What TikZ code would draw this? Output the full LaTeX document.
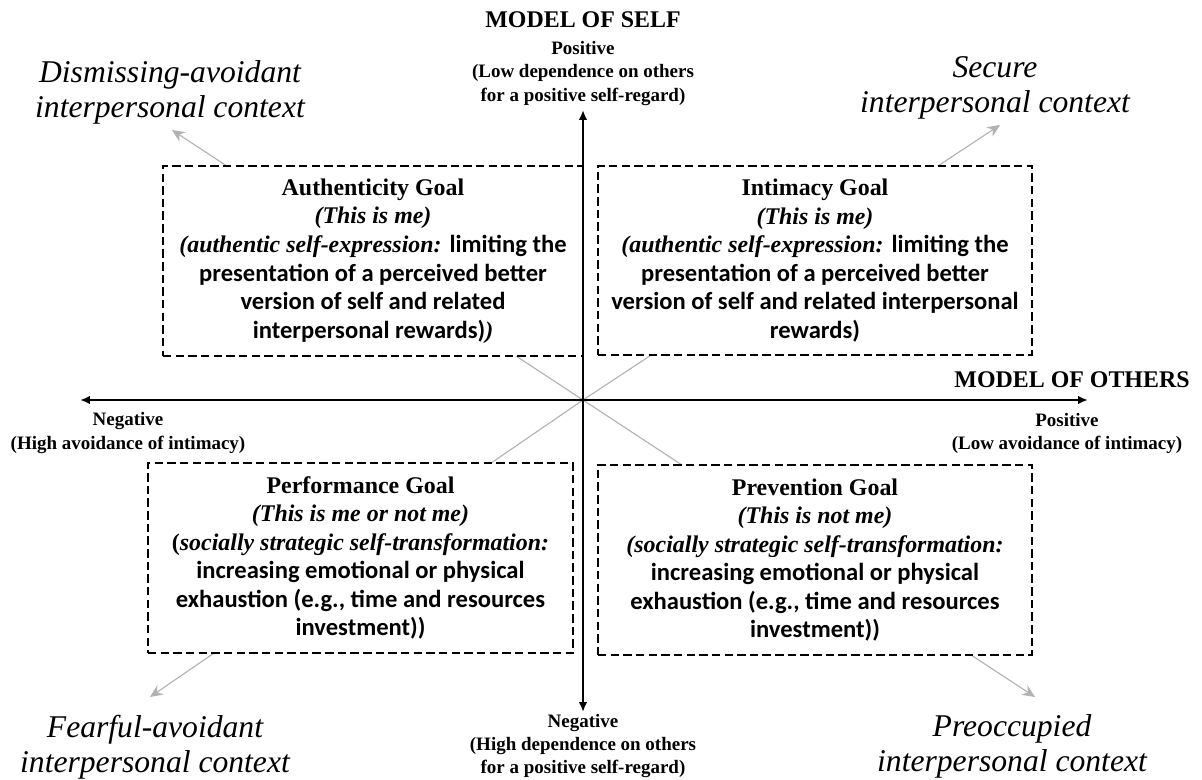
\documentclass[tikz,border=0pt]{standalone}
\usepackage{fontspec}
\setmainfont{Liberation Serif}
\newfontfamily\calibri{Carlito}
\usetikzlibrary{arrows.meta}

\newcommand{\sz}[2]{\fontsize{#1}{#2}\selectfont}
\newcommand{\gtitle}[1]{{\bfseries #1}}
\newcommand{\gnote}[1]{{\bfseries\itshape #1}}
\newcommand{\gbody}[1]{{\calibri\bfseries\sz{17.5}{20.3}#1}}

\begin{document}
\begin{tikzpicture}[x=0.25mm, y=-0.25mm,
    goal/.style={draw, line width=1.6pt, dash pattern=on 6pt off 3pt, fill=white,
        align=center, inner sep=0pt, font=\sz{17}{20.3}},
    axis/.style={line width=1.4pt, {Latex[length=7pt,width=6pt]}-{Latex[length=7pt,width=6pt]}},
    ctx/.style={gray!60, line width=0.8pt, -{Stealth[length=9pt,width=8pt]}},
    context/.style={align=center, font=\sz{22.5}{25}\itshape},
    pole/.style={align=center, font=\sz{13.5}{16.4}\bfseries},
    heading/.style={font=\sz{17}{20}\bfseries}]
    \useasboundingbox (0,0) rectangle (1202,780);

    % Centre and axis ends
    \coordinate (O) at (583,400);
    \coordinate (top) at (583,110);
    \coordinate (bottom) at (583,712);
    \coordinate (left) at (80,400);
    \coordinate (right) at (1088,400);

    % Diagonals towards the four contexts
    \coordinate (tipUL) at (172,130);
    \coordinate (tipUR) at (1000,125);
    \coordinate (tipLL) at (150,697);
    \coordinate (tipLR) at (1035,697);
    \foreach \c in {UL,UR,LL,LR} \draw[ctx] (O) -- (tip\c);

    % Goal boxes
    \node[goal, minimum width=105mm, minimum height=47.5mm] (auth) at (373,261) {%
        \gtitle{Authenticity Goal}\\
        \gnote{(This is me)}\\
        \gnote{(authentic self-expression:} \gbody{limiting the}\\
        \gbody{presentation of a perceived better}\\
        \gbody{version of self and related}\\
        \gbody{interpersonal rewards)}\gnote{)}};
    \node[goal, minimum width=108.5mm, minimum height=47.25mm] (intim) at (815,260.5) {%
        \gtitle{Intimacy Goal}\\
        \gnote{(This is me)}\\
        \gnote{(authentic self-expression:} \gbody{limiting the}\\
        \gbody{presentation of a perceived better}\\
        \gbody{version of self and related interpersonal}\\
        \gbody{rewards)}};
    \node[goal, minimum width=106.25mm, minimum height=47.5mm] (perf) at (360.5,558) {%
        \gtitle{Performance Goal}\\
        \gnote{(This is me or not me)}\\
        \gtitle{(}\gnote{socially strategic self-transformation:}\\
        \gbody{increasing emotional or physical}\\
        \gbody{exhaustion (e.g., time and resources}\\
        \gbody{investment))}};
    \node[goal, minimum width=108.5mm, minimum height=47.5mm] (prev) at (815,560) {%
        \gtitle{Prevention Goal}\\
        \gnote{(This is not me)}\\
        \gnote{(socially strategic self-transformation:}\\
        \gbody{increasing emotional or physical}\\
        \gbody{exhaustion (e.g., time and resources}\\
        \gbody{investment))}};

    % Axes
    \draw[axis] (bottom) -- (top);
    \draw[axis] (left) -- (right);

    % Model of self
    \node[heading] (self) at (583,20) {MODEL OF SELF};
    \node[pole] (selfpos) at (583,73.5) {Positive\\(Low dependence on others\\for a positive self-regard)};
    \node[pole] (selfneg) at (583,746) {Negative\\(High dependence on others\\for a positive self-regard)};

    % Model of others
    \node[heading] (others) at (1072,380) {MODEL OF OTHERS};
    \node[pole] (othneg) at (128,433) {Negative\\(High avoidance of intimacy)};
    \node[pole] (othpos) at (1067,433) {Positive\\(Low avoidance of intimacy)};

    % Interpersonal contexts
    \node[context] (dismiss) at (170,92) {Dismissing-avoidant\\interpersonal context};
    \node[context] (secure) at (995,88) {Secure\\interpersonal context};
    \node[context] (fearful) at (155,747) {Fearful-avoidant\\interpersonal context};
    \node[context] (preocc) at (1012,746) {Preoccupied\\interpersonal context};
\end{tikzpicture}
\end{document}
